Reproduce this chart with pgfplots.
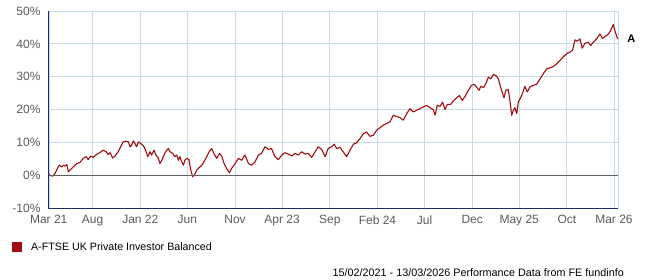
\documentclass[border=0pt]{standalone}
\usepackage{pgfplots}
\pgfplotsset{compat=1.18}
\usepackage{fontspec}
\setmainfont{Liberation Sans}
\definecolor{gridblue}{RGB}{200,218,230}
\definecolor{navy}{RGB}{28,40,120}
\definecolor{series}{RGB}{160,12,16}
\definecolor{ticktext}{RGB}{90,90,90}
\definecolor{zeroline}{RGB}{96,96,96}
\begin{document}
\begin{tikzpicture}
\path[use as bounding box] (0,0) rectangle (647bp,280bp);
\begin{axis}[
  at={(48.7bp,71.7bp)}, anchor=south west,
  scale only axis, width=569bp, height=197.3bp,
  xmin=0, xmax=1826, ymin=-10, ymax=50,
  clip=false,
  axis line style={draw=gridblue},
  grid=major, major grid style={draw=gridblue, line width=0.9bp},
  major tick length=0pt,
  xtick={0,141,294,445,598,749,902,1055,1206,1359,1510,1663,1814},
  xticklabels={Mar 21,Aug,Jan 22,Jun,Nov,Apr 23,Sep,Feb 24,Jul,Dec,May 25,Oct,Mar 26},
  ytick={-10,0,10,20,30,40,50},
  yticklabels={-10\%,0\%,10\%,20\%,30\%,40\%,50\%},
  xticklabel style={anchor=north, inner sep=0pt, yshift=-7bp, text=ticktext, font=\fontsize{12bp}{14bp}\selectfont},
  yticklabel style={anchor=east, inner sep=0pt, xshift=-8bp, text=ticktext, font=\fontsize{12bp}{14bp}\selectfont},
  legend style={at={(-0.0645,-0.196)}, anchor=west, draw=none, fill=none, inner sep=0pt, outer sep=0pt,
    nodes={inner sep=0pt, font=\fontsize{10.7bp}{12bp}\selectfont}},
  legend cell align=left,
  /tikz/every odd column/.append style={column sep=9bp},
]
\addplot[series, line width=1.1bp, line join=round,
  legend image code/.code={\fill[series] (0bp,-4.5bp) rectangle (9bp,4.5bp);}]
  table {
0 0.4
4 0
13 -0.2
20 0.6
28 2.1
34 3.1
42 2.6
47 3.1
52 2.8
58 3.3
63 1.1
68 1.6
79 2.6
90 3.6
100 3.9
111 5.2
120 5.7
127 4.8
135 5.9
143 5.5
154 6.4
165 7.0
175 7.7
184 7.2
191 6.4
197 6.9
205 5.3
213 5.9
223 7.2
231 8.7
239 10.2
248 10.4
256 10.2
261 8.7
266 9.2
272 10.5
277 9.7
282 8.7
288 10.2
295 9.7
304 9.0
311 7.7
318 5.7
325 7.2
330 6.2
338 7.7
344 6.2
352 5.2
357 3.6
363 4.6
368 5.7
375 7.2
384 8.2
389 7.2
398 6.7
405 5.7
411 6.2
416 4.6
421 5.7
427 4.1
432 3.1
437 4.6
443 5.2
450 4.8
456 1.6
462 -0.4
467 0.1
475 1.6
482 2.3
491 3.1
498 4.1
507 5.7
515 7.2
523 8.2
530 6.7
539 5.2
548 6.7
555 5.9
563 3.6
571 2.1
580 0.8
587 2.1
598 3.6
609 5.2
619 4.6
630 6.2
641 3.6
651 3.1
662 4.1
673 6.2
683 6.7
694 8.7
705 7.9
715 8.2
726 5.7
737 4.8
748 6.2
758 6.9
769 6.5
780 5.9
790 6.7
801 6.2
812 7.2
822 6.5
833 6.7
844 5.5
855 7.2
865 8.7
876 7.9
887 5.7
897 8.2
908 8.7
916 9.5
924 8.2
935 8.5
945 7.2
956 5.7
967 7.7
978 9.5
988 9.9
999 11.2
1010 12.7
1020 13.2
1031 11.9
1042 12.2
1052 13.7
1063 14.5
1074 15.3
1085 15.8
1095 16.3
1106 18.3
1117 17.9
1127 17.6
1138 16.8
1149 18.8
1159 20.3
1170 19.3
1181 19.8
1192 20.4
1202 20.8
1213 21.3
1224 20.6
1234 20.0
1240 18.3
1247 21.3
1256 21.0
1264 22.3
1272 20.0
1279 21.6
1290 21.6
1298 22.6
1309 23.6
1318 24.3
1327 22.8
1336 24.0
1347 25.9
1357 27.4
1366 27.7
1373 26.9
1381 25.9
1387 27.1
1395 26.7
1403 27.9
1411 29.9
1419 29.4
1427 30.7
1435 30.4
1443 29.4
1450 26.9
1457 24.8
1461 23.6
1467 25.9
1475 26.1
1480 22.8
1486 18.3
1491 19.8
1496 20.6
1502 18.8
1507 22.3
1518 24.3
1528 27.1
1536 25.4
1544 26.9
1555 27.4
1566 27.7
1577 29.4
1587 30.9
1598 32.4
1609 32.7
1619 33.1
1630 33.9
1641 35.0
1651 36.0
1662 37.0
1673 37.5
1681 38.0
1689 41.2
1696 40.8
1705 41.5
1712 38.7
1721 40.2
1732 40.5
1739 39.5
1748 40.5
1758 41.5
1769 43.0
1777 41.7
1785 42.2
1796 43.0
1803 44.0
1812 45.9
1817 44.0
1823 42.2
1826 41.5
};
\addlegendentry{A-FTSE UK Private Investor Balanced}
\draw[zeroline, line width=1bp] (axis cs:0,0) -- (axis cs:1826,0);
\draw[navy, line width=1.2bp] (rel axis cs:0,1) -- (rel axis cs:0,0) -- (rel axis cs:1,0);
\node[anchor=west, inner sep=0pt, xshift=9.5bp, font=\bfseries\fontsize{11bp}{12bp}\selectfont] at (axis cs:1826,41.5) {A};
\end{axis}
\node[anchor=base east, inner sep=0pt, font=\fontsize{10.8bp}{12bp}\selectfont] at (624bp,3.2bp) {15/02/2021 - 13/03/2026 Performance Data from FE fundinfo};
\end{tikzpicture}
\end{document}
